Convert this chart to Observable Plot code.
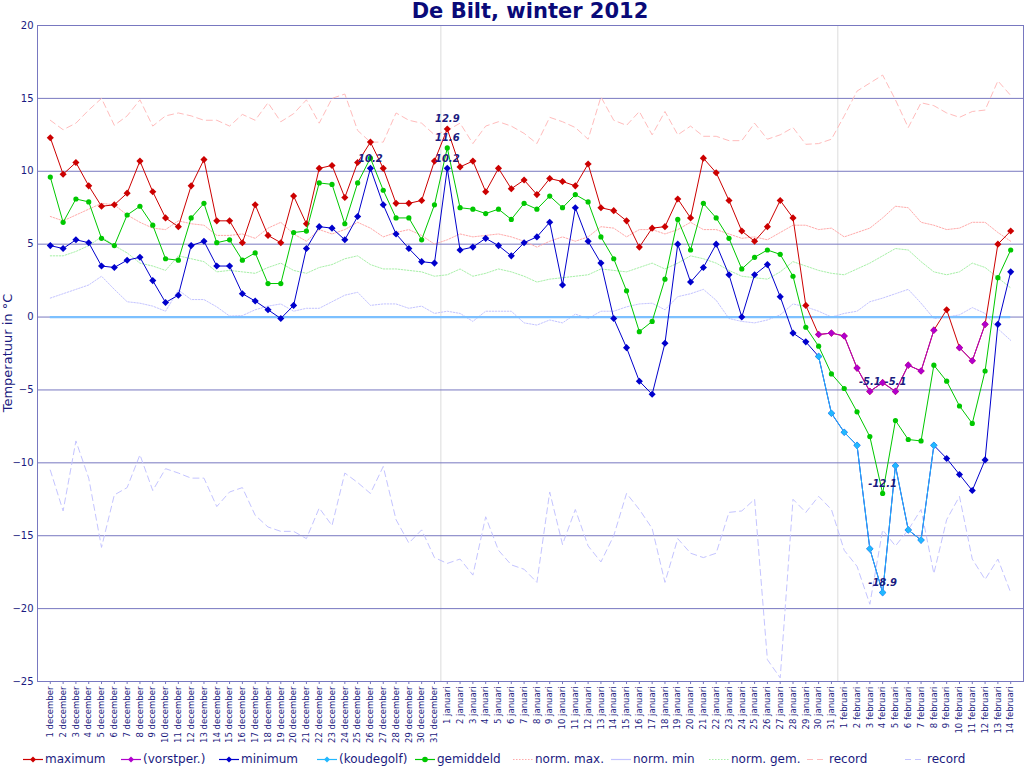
<!DOCTYPE html>
<html>
<head>
<meta charset="utf-8">
<script src="https://cdn.jsdelivr.net/npm/d3@7"></script>
<script src="https://cdn.jsdelivr.net/npm/@observablehq/plot@0.6"></script>
<style>
  body { margin: 0; background: #fff; font-family: "DejaVu Sans", sans-serif; }
  #wrap { position: relative; width: 1024px; height: 768px; overflow: hidden; background: #fff; }
  #chart { position: absolute; left: 0; top: 0; }
  #title { position: absolute; left: 37px; width: 986px; top: 0; text-align: center; font-weight: bold; font-size: 21px; line-height: 22px; color: #0a0a78; }
  #ylabel { position: absolute; left: 7px; top: 353px; transform: translate(-50%, -50%) rotate(-90deg); font-size: 13px; color: #1a1a80; white-space: nowrap; }
  #legend { position: absolute; top: 751px; left: 0; width: 1024px; height: 17px; }
  .item { position: absolute; top: 0; height: 17px; font-size: 12px; line-height: 17px; color: #1a1a80; white-space: nowrap; }
  .item svg { position: absolute; left: 0; top: 3px; }
  .item span { position: absolute; left: 22px; top: 0; }
</style>
</head>
<body>
<div id="wrap">
  <div id="chart"></div>
  <div id="title">De Bilt, winter 2012</div>
  <div id="ylabel">Temperatuur in °C</div>
  <div id="legend"></div>
</div>
<script>
// ---------- data ----------
const months = [["december", 31], ["januari", 31], ["februari", 14]];
const labels = months.flatMap(([m, n]) => d3.range(1, n + 1).map(d => `${d} ${m}`));

const maximum = [12.3, 9.8, 10.6, 9.0, 7.6, 7.7, 8.5, 10.7, 8.6, 6.8,
  6.2, 9.0, 10.8, 6.6, 6.6, 5.1, 7.7, 5.6, 5.1, 8.3,
  6.4, 10.2, 10.4, 8.2, 10.6, 12.0, 10.2, 7.8, 7.8, 8.0,
  10.7, 12.9, 10.3, 10.7, 8.6, 10.2, 8.8, 9.4, 8.4, 9.5,
  9.3, 9.0, 10.5, 7.5, 7.3, 6.6, 4.8, 6.1, 6.2, 8.1,
  6.8, 10.9, 9.9, 8.0, 5.9, 5.2, 6.2, 8.0, 6.8, 0.8,
  -1.2, -1.1, -1.3, -3.5, -5.1, -4.5, -5.1, -3.3, -3.7, -0.9,
  0.5, -2.1, -3.0, -0.5, 5.0, 5.9];

const minimum = [4.9, 4.7, 5.3, 5.1, 3.5, 3.4, 3.9, 4.1, 2.5, 1.0,
  1.5, 4.9, 5.2, 3.5, 3.5, 1.6, 1.1, 0.5, -0.1, 0.8,
  4.7, 6.2, 6.1, 5.3, 6.9, 10.2, 7.7, 5.7, 4.7, 3.8,
  3.7, 10.2, 4.6, 4.8, 5.4, 4.9, 4.2, 5.1, 5.5, 6.5,
  2.2, 7.5, 5.2, 3.7, -0.1, -2.1, -4.4, -5.3, -1.8, 5.0,
  2.4, 3.4, 5.0, 2.9, 0.0, 2.9, 3.6, 1.4, -1.1, -1.7,
  -2.7, -6.6, -7.9, -8.8, -15.9, -18.9, -10.2, -14.6, -15.3, -8.8,
  -9.7, -10.8, -11.9, -9.8, -0.5, 3.1];

const gemiddeld = [9.6, 6.5, 8.1, 7.9, 5.4, 4.9, 7.0, 7.6, 6.3, 4.0,
  3.9, 6.8, 7.8, 5.1, 5.3, 3.9, 4.4, 2.3, 2.3, 5.8,
  5.9, 9.2, 9.1, 6.4, 9.2, 10.9, 8.7, 6.8, 6.8, 5.3,
  7.7, 11.6, 7.5, 7.4, 7.1, 7.4, 6.7, 7.8, 7.4, 8.3,
  7.5, 8.4, 7.9, 5.5, 4.0, 1.8, -1.0, -0.3, 2.6, 6.7,
  4.6, 7.8, 6.8, 5.4, 3.3, 4.1, 4.6, 4.3, 2.8, -0.7,
  -2.0, -3.9, -4.9, -6.5, -8.2, -12.1, -7.1, -8.4, -8.5, -3.3,
  -4.4, -6.1, -7.3, -3.7, 2.7, 4.6];

const normMax = [6.9, 6.6, 7.0, 7.4, 7.8, 7.7, 7.0, 6.5, 6.1, 6.0,
  6.6, 6.4, 6.3, 5.6, 5.6, 5.7, 5.4, 6.1, 6.5, 5.7,
  5.2, 6.0, 5.7, 6.0, 6.5, 6.1, 5.5, 5.8, 6.0, 5.6,
  5.0, 5.3, 5.7, 5.5, 5.6, 5.7, 5.5, 5.2, 4.8, 5.2,
  5.5, 5.2, 5.5, 6.2, 6.1, 5.5, 6.0, 6.0, 5.7, 6.0,
  6.5, 6.0, 6.0, 5.7, 5.4, 5.5, 5.3, 5.8, 6.3, 6.3,
  6.0, 6.1, 5.5, 5.8, 6.1, 6.8, 7.6, 7.5, 6.5, 6.3,
  6.0, 6.1, 6.5, 6.5, 5.8, 5.2];

const normMin = [1.3, 1.6, 1.9, 2.2, 2.8, 1.9, 1.05, 0.95, 0.75, 0.4,
  1.85, 1.2, 1.2, 0.7, 0.07, 0.1, 0.5, 0.75, 0.9, 0.4,
  0.6, 0.6, 1.05, 1.5, 1.7, 0.8, 0.9, 0.9, 0.6, 0.75,
  0.25, 0.4, 0.25, -0.3, 0.4, 0.4, 0.4, -0.4, -0.55, -0.2,
  -0.4, 0.2, -0.1, 0.4, 0.4, 0.7, 0.9, 0.95, 0.5, 1.4,
  1.6, 1.9, 1.15, -0.1, -0.3, -0.4, -0.2, 0.15, 0.9, 0.7,
  0.4, 0.0, 0.25, 0.4, 1.05, 1.3, 1.6, 1.9, 0.95, -0.1,
  0.0, 0.15, 0.65, 0.25, -0.8, -1.6];

const normGem = [4.2, 4.2, 4.5, 4.9, 5.5, 4.9, 4.4, 3.7, 3.5, 3.2,
  4.2, 4.0, 3.8, 3.1, 3.2, 3.1, 3.0, 3.4, 3.7, 3.2,
  3.0, 3.4, 3.6, 4.0, 4.2, 3.6, 3.3, 3.3, 3.2, 3.1,
  2.8, 2.9, 3.3, 2.8, 3.0, 3.3, 3.1, 2.8, 2.4, 2.6,
  2.7, 2.8, 2.9, 3.3, 3.2, 3.1, 3.4, 3.7, 3.3, 3.7,
  4.2, 4.0, 3.7, 3.2, 2.8, 2.7, 2.6, 3.1, 3.8, 3.5,
  3.2, 3.0, 2.9, 3.3, 3.7, 4.2, 4.7, 4.6, 3.8, 3.1,
  2.9, 3.1, 3.7, 3.4, 2.7, 2.0];

const recordMax = [13.5, 12.85, 13.3, 14.2, 15.0, 13.15, 13.8, 14.9, 13.1, 13.8,
  14.0, 13.8, 13.5, 13.5, 13.1, 13.9, 13.5, 14.7, 13.4, 13.95,
  14.9, 13.3, 15.0, 15.3, 12.8, 12.0, 12.0, 14.0, 13.5, 13.3,
  12.5, 12.8, 13.3, 11.9, 13.1, 13.4, 13.1, 12.6, 11.9, 13.7,
  13.4, 13.0, 12.2, 15.1, 13.5, 13.15, 14.1, 12.5, 14.1, 12.5,
  13.1, 12.4, 12.4, 12.1, 12.1, 13.3, 12.2, 12.5, 13.0, 11.85,
  11.9, 12.2, 13.8, 15.5, 16.05, 16.6, 14.9, 13.0, 14.7, 14.5,
  14.0, 13.7, 14.1, 14.2, 16.2, 15.2];

const recordMin = [-10.5, -13.3, -8.5, -11.05, -15.8, -12.2, -11.7, -9.45, -11.9, -10.4,
  -10.7, -11.05, -11.05, -13.0, -12.0, -11.7, -13.6, -14.4, -14.7, -14.7,
  -15.2, -13.1, -14.3, -10.7, -11.35, -12.1, -10.25, -13.9, -15.5, -14.6,
  -16.5, -16.9, -16.6, -17.7, -13.7, -16.0, -17.0, -17.3, -18.2, -12.0,
  -15.6, -13.2, -15.7, -16.8, -15.0, -12.1, -13.2, -14.5, -18.2, -15.2,
  -16.2, -16.5, -16.2, -13.4, -13.3, -12.5, -23.5, -24.75, -12.5, -13.4,
  -12.3, -13.2, -16.0, -17.1, -19.7, -14.6, -15.7, -14.6, -13.2, -17.6,
  -13.9, -12.3, -16.6, -18.0, -16.6, -18.9];

const koudegolfPeriode = ["30 januari", "8 februari"];
const yTicks = [20, 15, 10, 5, 0, -5, -10, -15, -20, -25];

// ---------- styles ----------
const C = {
  max: "#cc0000", vorst: "#b000cc", min: "#0000cc", koude: "#22b8ff", gem: "#00c800",
  nmax: "#ffaaaa", nmin: "#c4c4ff", ngem: "#a8f0a8", rmax: "#ffbcbc", rmin: "#c4c4ff",
  grid: "#7878c0", month: "#dcdcdc", zero: "#7cc0ff", text: "#1a1a80"
};

// ---------- derived ----------
const idx = d3.range(labels.length);
const vorst = maximum.map(v => v < 0 ? v : NaN);
const kStart = labels.indexOf(koudegolfPeriode[0]);
const kEnd = labels.indexOf(koudegolfPeriode[1]);
const koude = minimum.map((v, i) => i >= kStart && i <= kEnd ? v : NaN);
const monthBreaks = idx.filter(i => i > 0 && labels[i].split(" ")[1] !== labels[i - 1].split(" ")[1]).map(i => i - 0.5);

const annots = [];
for (const s of [maximum, gemiddeld, minimum]) {
  const hi = d3.max(s), lo = d3.min(s);
  s.forEach((v, i) => { if (v === hi || v === lo) annots.push({i, v}); });
}

const dotted = "1.5,1.5", dashed = "6,4";
const mk = "diamond2", mr = 3.2;

const chart = Plot.plot({
  width: 1024, height: 768,
  marginTop: 25, marginBottom: 87, marginLeft: 37, marginRight: 1,
  x: {type: "linear", domain: [-1, labels.length]},
  y: {domain: [-25, 20]},
  style: {fontFamily: "DejaVu Sans, sans-serif", color: C.text, background: "transparent"},
  marks: [
    Plot.ruleX(monthBreaks, {stroke: C.month, strokeWidth: 1}),
    Plot.ruleY(yTicks, {stroke: C.grid, strokeWidth: 1}),
    Plot.frame({stroke: C.grid}),
    Plot.line(idx, {x: i => i, y: i => normMax[i], stroke: C.nmax, strokeDasharray: dotted, strokeWidth: 1}),
    Plot.line(idx, {x: i => i, y: i => normMin[i], stroke: C.nmin, strokeDasharray: dotted, strokeWidth: 1}),
    Plot.line(idx, {x: i => i, y: i => normGem[i], stroke: C.ngem, strokeDasharray: dotted, strokeWidth: 1}),
    Plot.line(idx, {x: i => i, y: i => recordMax[i], stroke: C.rmax, strokeDasharray: dashed, strokeWidth: 1}),
    Plot.line(idx, {x: i => i, y: i => recordMin[i], stroke: C.rmin, strokeDasharray: dashed, strokeWidth: 1}),
    Plot.ruleY([0], {x1: idx[0], x2: idx[idx.length - 1], stroke: C.zero, strokeWidth: 2.2}),
    Plot.line(idx, {x: i => i, y: i => maximum[i], stroke: C.max, strokeWidth: 1}),
    Plot.dot(idx, {x: i => i, y: i => maximum[i], symbol: mk, r: mr, fill: C.max}),
    Plot.line(idx, {x: i => i, y: i => vorst[i], stroke: C.vorst, strokeWidth: 1}),
    Plot.dot(idx, {x: i => i, y: i => vorst[i], symbol: mk, r: mr, fill: C.vorst}),
    Plot.line(idx, {x: i => i, y: i => minimum[i], stroke: C.min, strokeWidth: 1}),
    Plot.dot(idx, {x: i => i, y: i => minimum[i], symbol: mk, r: mr, fill: C.min}),
    Plot.line(idx, {x: i => i, y: i => koude[i], stroke: C.koude, strokeWidth: 1}),
    Plot.dot(idx, {x: i => i, y: i => koude[i], symbol: mk, r: mr, fill: C.koude}),
    Plot.line(idx, {x: i => i, y: i => gemiddeld[i], stroke: C.gem, strokeWidth: 1}),
    Plot.dot(idx, {x: i => i, y: i => gemiddeld[i], r: 2.6, fill: C.gem}),
    Plot.text(annots, {x: "i", y: "v", text: d => d.v.toFixed(1), dy: -10, fontSize: 10, fontWeight: "bold", fontStyle: "italic", fill: C.text}),
    Plot.axisY({ticks: yTicks, tickSize: 0, tickPadding: 4, fontSize: 10, label: null, fill: C.text}),
    Plot.axisX({ticks: idx, tickFormat: i => labels[i], tickRotate: -90, tickSize: 3, tickPadding: 2, fontSize: 8.5, label: null, stroke: C.grid, fill: C.text})
  ]
});
document.getElementById("chart").appendChild(chart);

// ---------- legend ----------
const legendItems = [
  {label: "maximum", color: C.max, dash: null, marker: "diamond"},
  {label: "(vorstper.)", color: C.vorst, dash: null, marker: "diamond"},
  {label: "minimum", color: C.min, dash: null, marker: "diamond"},
  {label: "(koudegolf)", color: C.koude, dash: null, marker: "diamond"},
  {label: "gemiddeld", color: C.gem, dash: null, marker: "circle"},
  {label: "norm. max.", color: C.nmax, dash: dotted, marker: null},
  {label: "norm. min", color: C.nmin, dash: null, marker: null},
  {label: "norm. gem.", color: C.ngem, dash: dotted, marker: null},
  {label: "record", color: C.rmax, dash: dashed, marker: null},
  {label: "record", color: C.rmin, dash: dashed, marker: null}
];
const legend = d3.select("#legend");
legendItems.forEach((it, k) => {
  const div = legend.append("div").attr("class", "item").style("left", (23 + 98 * k) + "px");
  const svg = div.append("svg").attr("width", 21).attr("height", 11);
  svg.append("line").attr("x1", 0).attr("x2", 20).attr("y1", 5.5).attr("y2", 5.5)
    .attr("stroke", it.color).attr("stroke-width", 1.2).attr("stroke-dasharray", it.dash);
  if (it.marker === "diamond") svg.append("path").attr("d", "M10,2.5L13,5.5L10,8.5L7,5.5Z").attr("fill", it.color);
  if (it.marker === "circle") svg.append("circle").attr("cx", 10).attr("cy", 5.5).attr("r", 2.8).attr("fill", it.color);
  div.append("span").text(it.label);
});
</script>
</body>
</html>
